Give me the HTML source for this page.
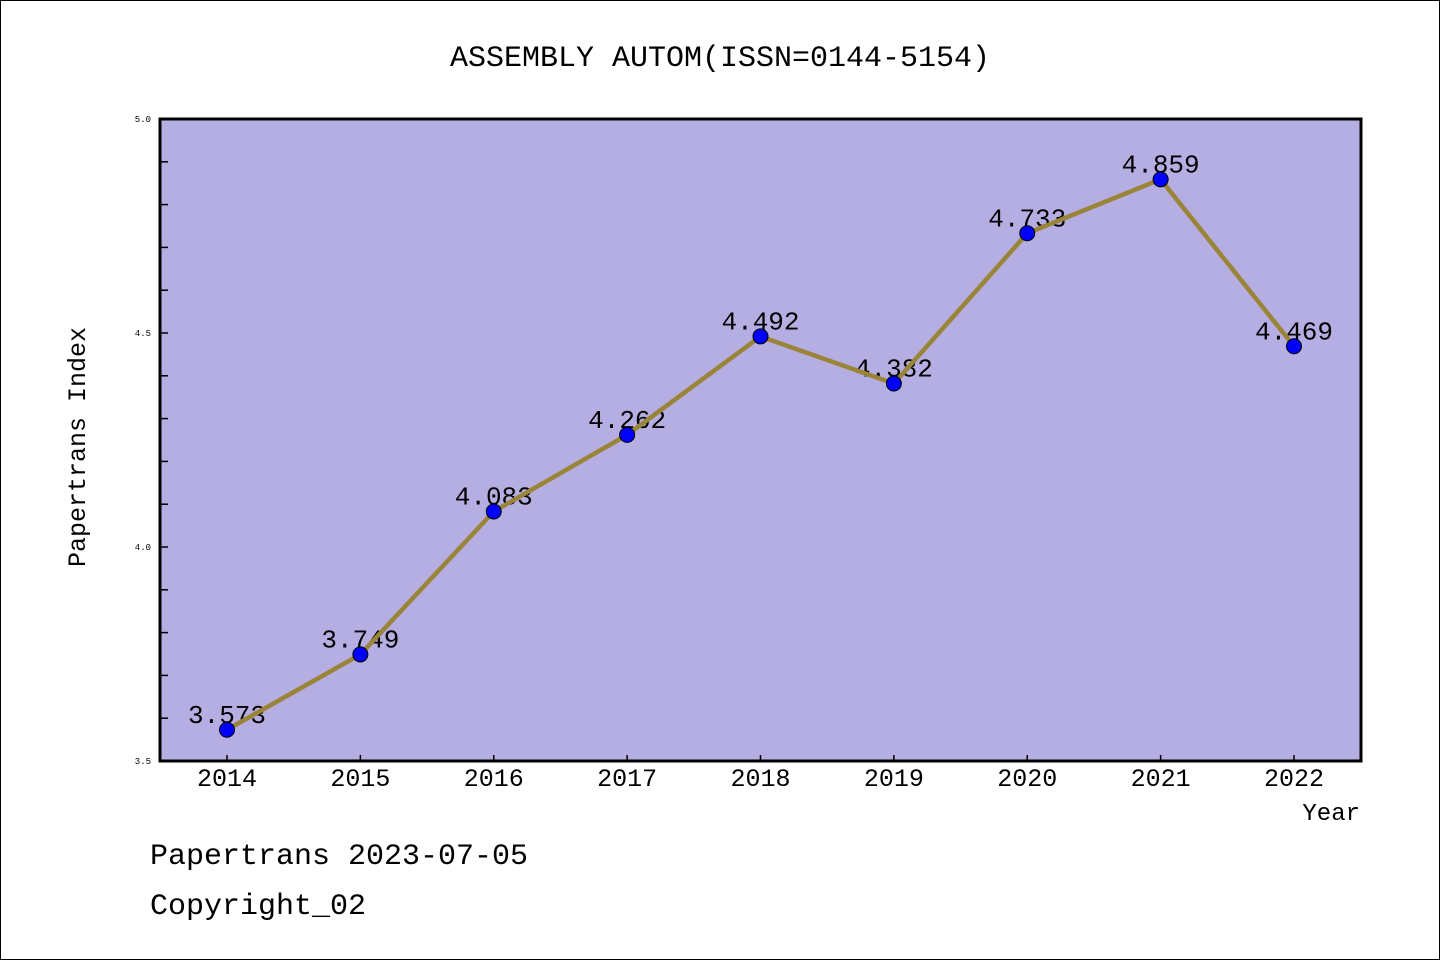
<!DOCTYPE html>
<html><head><meta charset="utf-8"><style>
html,body{margin:0;padding:0;background:#fff}
svg{display:block}
text{font-family:"Liberation Mono","DejaVu Sans Mono",monospace}
</style></head><body>
<svg width="1440" height="960" viewBox="0 0 1440 960" xmlns="http://www.w3.org/2000/svg">
<rect x="0.5" y="0.5" width="1439" height="959" fill="#fff" stroke="#000"/>
<text x="720" y="66" text-anchor="middle" font-size="30">ASSEMBLY AUTOM(ISSN=0144-5154)</text>
<rect x="160" y="119" width="1201" height="642" fill="#b5aee2"/>
<g id="axes"></g>
<g id="marks"></g>
<rect x="160" y="119" width="1201" height="642" fill="none" stroke="#000" stroke-width="3"/>
<text transform="translate(85,447) rotate(-90)" text-anchor="middle" font-size="25">Papertrans Index</text>
<text x="1360" y="820" text-anchor="end" font-size="24">Year</text>
<text x="150" y="864" font-size="30">Papertrans 2023-07-05</text>
<text x="150" y="914" font-size="30">Copyright_02</text>
</svg>
<script>
const years = ["2014","2015","2016","2017","2018","2019","2020","2021","2022"];
const values = [3.573,3.749,4.083,4.262,4.492,4.382,4.733,4.859,4.469];
const yTickLabels = ["3.5","4.0","4.5","5.0"];
const NS="http://www.w3.org/2000/svg";
const px0=227,px1=1294,yMin=3.5,yMax=5.0,pTop=119,pBot=761;
const xs=i=>px0+(px1-px0)*i/(years.length-1);
const ys=v=>pBot-(v-yMin)/(yMax-yMin)*(pBot-pTop);
function mk(tag,attrs,parent){const e=document.createElementNS(NS,tag);for(const k in attrs)e.setAttribute(k,attrs[k]);parent.appendChild(e);return e;}
const axes=document.getElementById('axes'),marks=document.getElementById('marks');
for(let k=0;k<=15;k++){const v=yMin+k*0.1;const y=ys(v);
 const t=mk('line',{x1:160,x2:168,y1:y,y2:y,stroke:'#000','stroke-width':1.5},axes);
 
 }
yTickLabels.forEach(l=>{const t=mk('text',{x:151,y:ys(parseFloat(l))+3,'text-anchor':'end','font-size':9},axes);t.textContent=l;
 
 });
years.forEach((yr,i)=>{const x=xs(i);
 const t=mk('line',{x1:x,x2:x,y1:pBot,y2:pBot-6,stroke:'#000','stroke-width':1.5},axes);
 
 
 const l=mk('text',{x:x,y:786,'text-anchor':'middle','font-size':25},axes);l.textContent=yr;
 
 });
values.forEach((v,i)=>{const t=mk('text',{x:xs(i),y:ys(v)-7,'text-anchor':'middle','font-size':26},marks);t.textContent=v.toFixed(3);
 
 });
const p=mk('polyline',{points:values.map((v,i)=>xs(i)+','+ys(v)).join(' '),fill:'none',stroke:'#9a8438','stroke-width':4.5},marks);


values.forEach((v,i)=>{const c=mk('circle',{cx:xs(i),cy:ys(v),r:7.5,fill:'#0000ff',stroke:'#000','stroke-width':1},marks);
 
 });
</script>
</body></html>
